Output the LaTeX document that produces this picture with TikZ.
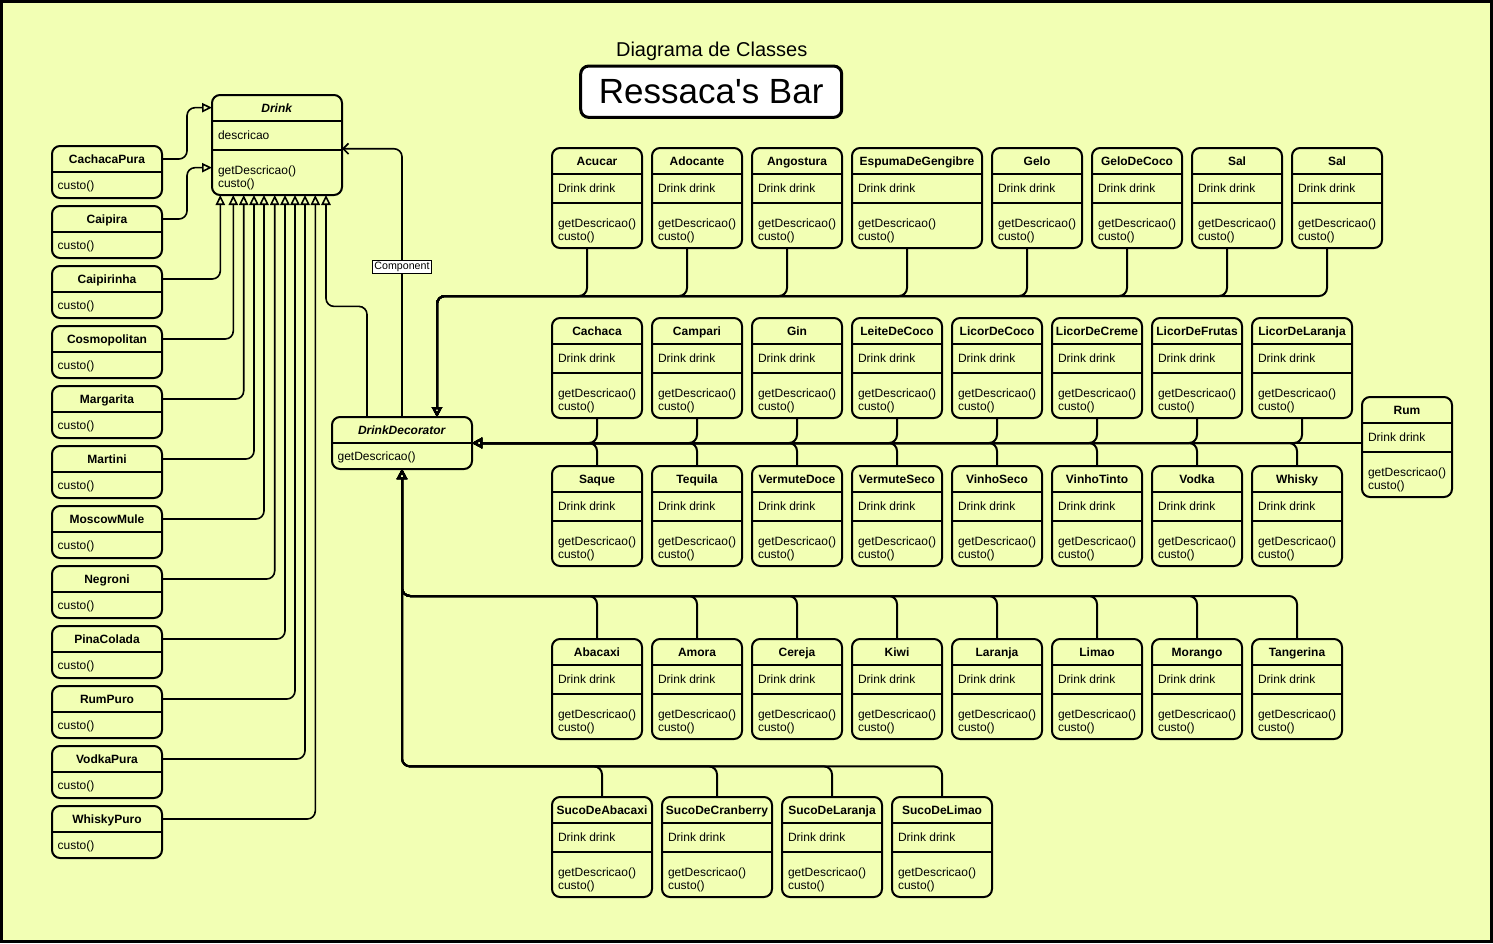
\documentclass[tikz,border=0pt]{standalone}
\usepackage{fontspec}
\setmainfont{Liberation Sans}
\usetikzlibrary{arrows.meta}

\definecolor{barbg}{RGB}{242,255,180}

\tikzset{
  classbox/.style={draw, fill=barbg, line width=1.5pt, rounded corners=6pt, anchor=north west, inner sep=0pt, outer sep=0pt},
  classsep/.style={line width=1.5pt},
  classname/.style={anchor=base, inner sep=0pt, font=\fontsize{9}{10.5}\selectfont\bfseries},
  classline/.style={anchor=base west, inner sep=0pt, font=\fontsize{9}{10.5}\selectfont},
  titlebox/.style={draw, fill=white, line width=2.25pt, rounded corners=6pt, inner sep=0pt, outer sep=0pt, font=\fontsize{26.25}{30}\selectfont},
  inherit/.style={line width=1.2pt, rounded corners=6pt, -{Triangle[open, length=7.5pt, width=7pt]}},
  wrapedge/.style={line width=1.5pt, rounded corners=6pt, -{Triangle[open, length=7.5pt, width=7.5pt]}},
  assoc/.style={line width=1.2pt, rounded corners=6pt, -{Straight Barb[length=4pt, width=8pt]}},
  complabel/.style={draw, fill=white, sharp corners, line width=0.5pt, inner xsep=1.2pt, inner ysep=1.1pt, font=\fontsize{8}{9}\selectfont}
}

% name, left, top, width (px), title, attribute
\newcommand\umlclass[6]{%
  \node[classbox, minimum width=#4*0.75pt, minimum height=75pt] (#1) at (#2,#3) {};
  \draw[classsep] ([yshift=-19.5pt]#1.north west) -- ([yshift=-19.5pt]#1.north east);
  \draw[classsep] ([yshift=-41.25pt]#1.north west) -- ([yshift=-41.25pt]#1.north east);
  \node[classname] (#1-t) at ([yshift=-13.2pt]#1.north) {#5};
  \node[classline] (#1-a) at ([shift={(4.3pt,-33pt)}]#1.north west) {#6};
  \node[classline] (#1-m1) at ([shift={(4.3pt,-59.25pt)}]#1.north west) {getDescricao()};
  \node[classline] (#1-m2) at ([shift={(4.3pt,-69.3pt)}]#1.north west) {custo()};
}
% name, left, top, width (px), title, method
\newcommand\smallclass[6]{%
  \node[classbox, minimum width=#4*0.75pt, minimum height=39pt] (#1) at (#2,#3) {};
  \draw[classsep] ([yshift=-19.5pt]#1.north west) -- ([yshift=-19.5pt]#1.north east);
  \node[classname] (#1-t) at ([yshift=-13.1pt]#1.north) {#5};
  \node[classline] (#1-m) at ([shift={(4pt,-32.5pt)}]#1.north west) {#6};
}

\begin{document}
\begin{tikzpicture}[x=0.75pt, y=-0.75pt, font=\fontsize{9}{10.5}\selectfont]
\useasboundingbox (0,0) rectangle (1493,943);
\fill[barbg] (0,0) rectangle (1493,943);
\draw[line width=2.25pt] (1.5,1.5) rectangle (1491.5,941.5);

\node[anchor=base, font=\fontsize{15}{18}\selectfont] (subtitle) at (711.7,56.7) {Diagrama de Classes};
\node[titlebox, minimum width=195.75pt, minimum height=38.5pt] (bartitle) at (711.2,91.7) {Ressaca\textquotesingle s Bar};

\umlclass{drink}{212}{95}{130}{\textit{Drink}}{descricao} % Class.Drink
\smallclass{dd}{332}{417}{140}{\textit{DrinkDecorator}}{getDescricao()} % Class.DrinkDecorator

\smallclass{cachacapura}{52}{146}{110}{CachacaPura}{custo()} % Class.CachacaPura
\smallclass{caipira}{52}{206}{110}{Caipira}{custo()} % Class.Caipira
\smallclass{caipirinha}{52}{266}{110}{Caipirinha}{custo()} % Class.Caipirinha
\smallclass{cosmopolitan}{52}{326}{110}{Cosmopolitan}{custo()} % Class.Cosmopolitan
\smallclass{margarita}{52}{386}{110}{Margarita}{custo()} % Class.Margarita
\smallclass{martini}{52}{446}{110}{Martini}{custo()} % Class.Martini
\smallclass{moscowmule}{52}{506}{110}{MoscowMule}{custo()} % Class.MoscowMule
\smallclass{negroni}{52}{566}{110}{Negroni}{custo()} % Class.Negroni
\smallclass{pinacolada}{52}{626}{110}{PinaColada}{custo()} % Class.PinaColada
\smallclass{rumpuro}{52}{686}{110}{RumPuro}{custo()} % Class.RumPuro
\smallclass{vodkapura}{52}{746}{110}{VodkaPura}{custo()} % Class.VodkaPura
\smallclass{whiskypuro}{52}{806}{110}{WhiskyPuro}{custo()} % Class.WhiskyPuro

\umlclass{acucar}{552}{148}{90}{Acucar}{Drink drink} % Class.Acucar
\umlclass{adocante}{652}{148}{90}{Adocante}{Drink drink} % Class.Adocante
\umlclass{angostura}{752}{148}{90}{Angostura}{Drink drink} % Class.Angostura
\umlclass{espuma}{852}{148}{130}{EspumaDeGengibre}{Drink drink} % Class.EspumaDeGengibre
\umlclass{gelo}{992}{148}{90}{Gelo}{Drink drink} % Class.Gelo
\umlclass{gelodecoco}{1092}{148}{90}{GeloDeCoco}{Drink drink} % Class.GeloDeCoco
\umlclass{sal}{1192}{148}{90}{Sal}{Drink drink} % Class.Sal
\umlclass{salb}{1292}{148}{90}{Sal}{Drink drink} % Class.Sal

\umlclass{cachaca}{552}{318}{90}{Cachaca}{Drink drink} % Class.Cachaca
\umlclass{campari}{652}{318}{90}{Campari}{Drink drink} % Class.Campari
\umlclass{gin}{752}{318}{90}{Gin}{Drink drink} % Class.Gin
\umlclass{leitedecoco}{852}{318}{90}{LeiteDeCoco}{Drink drink} % Class.LeiteDeCoco
\umlclass{licordecoco}{952}{318}{90}{LicorDeCoco}{Drink drink} % Class.LicorDeCoco
\umlclass{licordecreme}{1052}{318}{90}{LicorDeCreme}{Drink drink} % Class.LicorDeCreme
\umlclass{licordefrutas}{1152}{318}{90}{LicorDeFrutas}{Drink drink} % Class.LicorDeFrutas
\umlclass{licordelaranja}{1252}{318}{100}{LicorDeLaranja}{Drink drink} % Class.LicorDeLaranja
\umlclass{rum}{1362}{397}{90}{Rum}{Drink drink} % Class.Rum

\umlclass{saque}{552}{466}{90}{Saque}{Drink drink} % Class.Saque
\umlclass{tequila}{652}{466}{90}{Tequila}{Drink drink} % Class.Tequila
\umlclass{vermutedoce}{752}{466}{90}{VermuteDoce}{Drink drink} % Class.VermuteDoce
\umlclass{vermuteseco}{852}{466}{90}{VermuteSeco}{Drink drink} % Class.VermuteSeco
\umlclass{vinhoseco}{952}{466}{90}{VinhoSeco}{Drink drink} % Class.VinhoSeco
\umlclass{vinhotinto}{1052}{466}{90}{VinhoTinto}{Drink drink} % Class.VinhoTinto
\umlclass{vodka}{1152}{466}{90}{Vodka}{Drink drink} % Class.Vodka
\umlclass{whisky}{1252}{466}{90}{Whisky}{Drink drink} % Class.Whisky

\umlclass{abacaxi}{552}{639}{90}{Abacaxi}{Drink drink} % Class.Abacaxi
\umlclass{amora}{652}{639}{90}{Amora}{Drink drink} % Class.Amora
\umlclass{cereja}{752}{639}{90}{Cereja}{Drink drink} % Class.Cereja
\umlclass{kiwi}{852}{639}{90}{Kiwi}{Drink drink} % Class.Kiwi
\umlclass{laranja}{952}{639}{90}{Laranja}{Drink drink} % Class.Laranja
\umlclass{limao}{1052}{639}{90}{Limao}{Drink drink} % Class.Limao
\umlclass{morango}{1152}{639}{90}{Morango}{Drink drink} % Class.Morango
\umlclass{tangerina}{1252}{639}{90}{Tangerina}{Drink drink} % Class.Tangerina

\umlclass{sucoabacaxi}{552}{797}{100}{SucoDeAbacaxi}{Drink drink} % Class.SucoDeAbacaxi
\umlclass{sucocranberry}{662}{797}{110}{SucoDeCranberry}{Drink drink} % Class.SucoDeCranberry
\umlclass{sucolaranja}{782}{797}{100}{SucoDeLaranja}{Drink drink} % Class.SucoDeLaranja
\umlclass{sucolimao}{892}{797}{100}{SucoDeLimao}{Drink drink} % Class.SucoDeLimao

\draw[inherit] ([yshift=-9.75pt]cachacapura.north east) -- ++(25,0) |- ([yshift=-9.5pt]drink.north west); % Extends.CachacaPura
\draw[inherit] ([yshift=-9.75pt]caipira.north east) -- ++(25,0) |- ([yshift=-54.5pt]drink.north west); % Extends.Caipira
\draw[inherit] ([yshift=-9.75pt]caipirinha.north east) -| (220.3,0 |- drink.south); % Extends.Caipirinha
\draw[inherit] ([yshift=-9.75pt]cosmopolitan.north east) -| (233.3,0 |- drink.south); % Extends.Cosmopolitan
\draw[inherit] ([yshift=-9.75pt]margarita.north east) -| (243.7,0 |- drink.south); % Extends.Margarita
\draw[inherit] ([yshift=-9.75pt]martini.north east) -| (254,0 |- drink.south); % Extends.Martini
\draw[inherit] ([yshift=-9.75pt]moscowmule.north east) -| (264,0 |- drink.south); % Extends.MoscowMule
\draw[inherit] ([yshift=-9.75pt]negroni.north east) -| (274.7,0 |- drink.south); % Extends.Negroni
\draw[inherit] ([yshift=-9.75pt]pinacolada.north east) -| (285,0 |- drink.south); % Extends.PinaColada
\draw[inherit] ([yshift=-9.75pt]rumpuro.north east) -| (295,0 |- drink.south); % Extends.RumPuro
\draw[inherit] ([yshift=-9.75pt]vodkapura.north east) -| (305,0 |- drink.south); % Extends.VodkaPura
\draw[inherit] ([yshift=-9.75pt]whiskypuro.north east) -| (315.3,0 |- drink.south); % Extends.WhiskyPuro
\draw[inherit] ([xshift=-26.25pt]dd.north) -- ++(0,-110.6) -| (326,0 |- drink.south); % Extends.DrinkDecorator
\draw[assoc] (dd.north) |- node[complabel, pos=0.28] (complbl) {Component} ([yshift=-40.3pt]drink.north east); % Uses.Component

\draw[wrapedge] ([xshift=26.25pt]acucar.south west) -- ++(0,48) -| ([xshift=26.25pt]dd.north); % Wraps.Acucar
\draw[wrapedge] ([xshift=26.25pt]adocante.south west) -- ++(0,48) -| ([xshift=26.25pt]dd.north); % Wraps.Adocante
\draw[wrapedge] ([xshift=26.25pt]angostura.south west) -- ++(0,48) -| ([xshift=26.25pt]dd.north); % Wraps.Angostura
\draw[wrapedge] ([xshift=41.25pt]espuma.south west) -- ++(0,48) -| ([xshift=26.25pt]dd.north); % Wraps.EspumaDeGengibre
\draw[wrapedge] ([xshift=26.25pt]gelo.south west) -- ++(0,48) -| ([xshift=26.25pt]dd.north); % Wraps.Gelo
\draw[wrapedge] ([xshift=26.25pt]gelodecoco.south west) -- ++(0,48) -| ([xshift=26.25pt]dd.north); % Wraps.GeloDeCoco
\draw[wrapedge] ([xshift=26.25pt]sal.south west) -- ++(0,48) -| ([xshift=26.25pt]dd.north); % Wraps.Sal
\draw[wrapedge] ([xshift=26.25pt]salb.south west) -- ++(0,48) -| ([xshift=26.25pt]dd.north); % Wraps.Sal

\draw[wrapedge] (cachaca.south) |- (dd.east); % Wraps.Cachaca
\draw[wrapedge] (campari.south) |- (dd.east); % Wraps.Campari
\draw[wrapedge] (gin.south) |- (dd.east); % Wraps.Gin
\draw[wrapedge] (leitedecoco.south) |- (dd.east); % Wraps.LeiteDeCoco
\draw[wrapedge] (licordecoco.south) |- (dd.east); % Wraps.LicorDeCoco
\draw[wrapedge] (licordecreme.south) |- (dd.east); % Wraps.LicorDeCreme
\draw[wrapedge] (licordefrutas.south) |- (dd.east); % Wraps.LicorDeFrutas
\draw[wrapedge] (licordelaranja.south) |- (dd.east); % Wraps.LicorDeLaranja
\draw[wrapedge] (rum.west |- dd.east) -- (dd.east); % Wraps.Rum
\draw[wrapedge] (saque.north) |- (dd.east); % Wraps.Saque
\draw[wrapedge] (tequila.north) |- (dd.east); % Wraps.Tequila
\draw[wrapedge] (vermutedoce.north) |- (dd.east); % Wraps.VermuteDoce
\draw[wrapedge] (vermuteseco.north) |- (dd.east); % Wraps.VermuteSeco
\draw[wrapedge] (vinhoseco.north) |- (dd.east); % Wraps.VinhoSeco
\draw[wrapedge] (vinhotinto.north) |- (dd.east); % Wraps.VinhoTinto
\draw[wrapedge] (vodka.north) |- (dd.east); % Wraps.Vodka
\draw[wrapedge] (whisky.north) |- (dd.east); % Wraps.Whisky

\draw[wrapedge] (abacaxi.north) -- ++(0,-43) -| (dd.south); % Wraps.Abacaxi
\draw[wrapedge] (amora.north) -- ++(0,-43) -| (dd.south); % Wraps.Amora
\draw[wrapedge] (cereja.north) -- ++(0,-43) -| (dd.south); % Wraps.Cereja
\draw[wrapedge] (kiwi.north) -- ++(0,-43) -| (dd.south); % Wraps.Kiwi
\draw[wrapedge] (laranja.north) -- ++(0,-43) -| (dd.south); % Wraps.Laranja
\draw[wrapedge] (limao.north) -- ++(0,-43) -| (dd.south); % Wraps.Limao
\draw[wrapedge] (morango.north) -- ++(0,-43) -| (dd.south); % Wraps.Morango
\draw[wrapedge] (tangerina.north) -- ++(0,-43) -| (dd.south); % Wraps.Tangerina
\draw[wrapedge] (sucoabacaxi.north) -- ++(0,-30.6) -| (dd.south); % Wraps.SucoDeAbacaxi
\draw[wrapedge] (sucocranberry.north) -- ++(0,-30.6) -| (dd.south); % Wraps.SucoDeCranberry
\draw[wrapedge] (sucolaranja.north) -- ++(0,-30.6) -| (dd.south); % Wraps.SucoDeLaranja
\draw[wrapedge] (sucolimao.north) -- ++(0,-30.6) -| (dd.south); % Wraps.SucoDeLimao
\end{tikzpicture}
\end{document}
